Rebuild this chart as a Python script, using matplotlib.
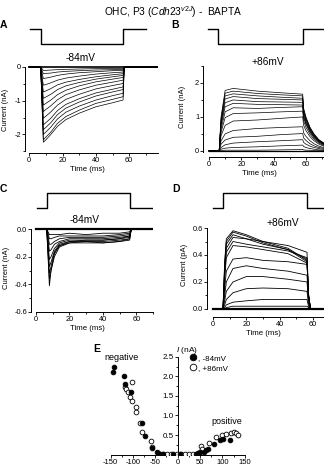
import matplotlib
matplotlib.use("Agg")
from matplotlib import pyplot as plt
from matplotlib.ticker import FixedLocator, MultipleLocator

plt.rcParams["font.family"] = ["Liberation Sans", "DejaVu Sans"]
plt.rcParams["mathtext.fontset"] = "custom"
plt.rcParams["mathtext.rm"] = "Liberation Sans"
plt.rcParams["mathtext.it"] = "Liberation Sans:italic"
plt.rcParams["axes.unicode_minus"] = False

# ---------------- datos ----------------
# A: corrientes a -84mV (nA), muestras en 8.5..56.3 ms
tiempo_a = [0, 6.9, 8.5, 10, 13, 17, 22, 30, 40, 50, 56.3, 57, 77]
trazas_a = [
    [-2.23, -2.16, -2.0, -1.76, -1.56, -1.37, -1.18, -1.06, -0.98],
    [-2.16, -2.08, -1.93, -1.67, -1.47, -1.28, -1.08, -0.96, -0.88],
    [-2.0, -1.93, -1.78, -1.54, -1.34, -1.16, -0.98, -0.85, -0.78],
    [-1.86, -1.79, -1.65, -1.41, -1.22, -1.04, -0.86, -0.74, -0.67],
    [-1.72, -1.65, -1.52, -1.29, -1.11, -0.94, -0.77, -0.66, -0.59],
    [-1.52, -1.46, -1.33, -1.13, -0.96, -0.81, -0.65, -0.55, -0.49],
    [-1.32, -1.26, -1.15, -0.97, -0.82, -0.68, -0.54, -0.45, -0.39],
    [-1.13, -1.08, -0.98, -0.82, -0.69, -0.56, -0.44, -0.36, -0.31],
    [-0.93, -0.89, -0.81, -0.67, -0.56, -0.46, -0.36, -0.29, -0.25],
    [-0.74, -0.71, -0.64, -0.53, -0.45, -0.37, -0.29, -0.23, -0.2],
    [-0.54, -0.52, -0.47, -0.39, -0.33, -0.27, -0.21, -0.17, -0.15],
    [-0.34, -0.33, -0.30, -0.25, -0.21, -0.17, -0.14, -0.11, -0.1],
    [-0.2, -0.19, -0.18, -0.15, -0.13, -0.11, -0.09, -0.08, -0.07],
    [-0.1, -0.1, -0.09, -0.08, -0.07, -0.06, -0.05, -0.04, -0.04],
]
pulso_a_t = [0.5, 7, 7, 56.3, 56.3, 70]
pulso_a_v = [0, 0, -1, -1, 0, 0]

# B: corrientes a +86mV (nA)
tiempo_b = [0, 6.3, 7.5, 10, 15, 30, 45, 58, 58.6, 60, 62.5, 65, 68, 71.5]
meseta_b = [
    [1.0, 1.78, 1.84, 1.76, 1.71, 1.67],
    [0.95, 1.70, 1.76, 1.69, 1.65, 1.62],
    [0.9, 1.62, 1.68, 1.62, 1.58, 1.55],
    [0.85, 1.53, 1.6, 1.54, 1.52, 1.5],
    [0.8, 1.42, 1.5, 1.45, 1.44, 1.43],
    [0.75, 1.3, 1.4, 1.37, 1.36, 1.35],
    [0.65, 1.15, 1.27, 1.25, 1.28, 1.3],
    [0.55, 0.98, 1.1, 1.12, 1.15, 1.17],
    [0.45, 0.75, 0.88, 0.91, 0.96, 1.0],
    [0.3, 0.5, 0.6, 0.66, 0.69, 0.71],
    [0.2, 0.32, 0.4, 0.43, 0.48, 0.51],
    [0.1, 0.18, 0.23, 0.27, 0.3, 0.33],
    [0.05, 0.08, 0.1, 0.12, 0.15, 0.17],
    [0.01, 0.02, 0.02, 0.02, 0.03, 0.04],
]
cola_b = [
    [1.25, 1.0, 0.70, 0.5, 0.33, 0.22],
    [1.22, 0.97, 0.68, 0.49, 0.32, 0.21],
    [1.16, 0.93, 0.65, 0.47, 0.31, 0.2],
    [1.13, 0.9, 0.63, 0.45, 0.3, 0.2],
    [1.07, 0.86, 0.6, 0.43, 0.29, 0.19],
    [1.01, 0.81, 0.57, 0.41, 0.27, 0.18],
    [0.98, 0.78, 0.55, 0.39, 0.26, 0.17],
    [0.88, 0.7, 0.49, 0.35, 0.23, 0.15],
    [0.75, 0.6, 0.42, 0.3, 0.2, 0.13],
    [0.53, 0.43, 0.3, 0.21, 0.14, 0.09],
    [0.38, 0.31, 0.21, 0.15, 0.1, 0.07],
    [0.25, 0.2, 0.14, 0.1, 0.07, 0.04],
    [0.13, 0.1, 0.07, 0.05, 0.03, 0.02],
    [0.03, 0.02, 0.02, 0.01, 0.01, 0.01],
]
pulso_b_t = [-0.6, 5.6, 5.6, 58.1, 58.1, 71.2]
pulso_b_v = [0, 0, -1, -1, 0, 0]

# C: -84mV con BAPTA (nA), muestras en 7.2..56 ms
tiempo_c = [0, 6.4, 7.2, 8, 9, 11, 14, 20, 30, 40, 50, 56, 57, 70]
trazas_c = [
    [-0.2, -0.41, -0.3, -0.18, -0.12, -0.1, -0.1, -0.1, -0.09, -0.08],
    [-0.18, -0.36, -0.3, -0.2, -0.13, -0.1, -0.09, -0.1, -0.09, -0.07],
    [-0.15, -0.32, -0.27, -0.17, -0.12, -0.09, -0.09, -0.09, -0.08, -0.07],
    [-0.12, -0.27, -0.24, -0.16, -0.11, -0.09, -0.08, -0.08, -0.07, -0.06],
    [-0.1, -0.22, -0.2, -0.14, -0.1, -0.08, -0.08, -0.08, -0.07, -0.05],
    [-0.07, -0.16, -0.15, -0.11, -0.09, -0.07, -0.07, -0.07, -0.06, -0.05],
    [-0.05, -0.11, -0.11, -0.09, -0.07, -0.06, -0.06, -0.06, -0.05, -0.04],
    [-0.03, -0.07, -0.07, -0.06, -0.05, -0.05, -0.05, -0.05, -0.04, -0.03],
    [-0.02, -0.04, -0.04, -0.04, -0.04, -0.03, -0.04, -0.03, -0.03, -0.02],
]
pulso_c_t = [0.6, 6.6, 6.6, 56.1, 56.1, 70]
pulso_c_v = [0, 0, 1, 1, 0, 0]

# D: +86mV con BAPTA (pA), muestras en 7..57.3 ms
tiempo_d = [0, 6, 7, 8, 12, 20, 30, 45, 56.4, 57.3, 58.5, 67]
trazas_d = [
    [0.35, 0.52, 0.58, 0.55, 0.5, 0.45, 0.36, 0.1],
    [0.33, 0.5, 0.57, 0.54, 0.49, 0.44, 0.35, 0.1],
    [0.3, 0.48, 0.55, 0.52, 0.48, 0.44, 0.37, 0.1],
    [0.28, 0.45, 0.53, 0.52, 0.5, 0.47, 0.42, 0.12],
    [0.25, 0.42, 0.5, 0.48, 0.46, 0.43, 0.38, 0.1],
    [0.22, 0.38, 0.47, 0.46, 0.44, 0.41, 0.34, 0.1],
    [0.15, 0.28, 0.37, 0.38, 0.36, 0.35, 0.33, 0.09],
    [0.1, 0.2, 0.3, 0.32, 0.3, 0.28, 0.25, 0.07],
    [0.06, 0.13, 0.2, 0.24, 0.24, 0.22, 0.2, 0.06],
    [0.03, 0.07, 0.12, 0.15, 0.155, 0.15, 0.13, 0.04],
    [0.01, 0.03, 0.05, 0.06, 0.07, 0.07, 0.07, 0.02],
    [0.0, 0.01, 0.02, 0.02, 0.02, 0.02, 0.02, 0.01],
]
pulso_d_t = [0, 6, 6, 56.4, 56.4, 66.6]
pulso_d_v = [0, 0, 1, 1, 0, 0]

# E: amplitud vs desplazamiento
x_84 = [-142, -144, -121, -117, -105, -80, -72, -57, -47, -40, -33, -10, 5,
        40, 45, 51, 58, 63, 67, 82, 94, 101, 117]
y_84 = [2.23, 2.11, 2.0, 1.81, 1.61, 0.8, 0.48, 0.17, 0.07, 0.02, 0.01, 0.01,
        0.01, 0.02, 0.03, 0.06, 0.07, 0.12, 0.13, 0.27, 0.36, 0.4, 0.37]
x_86 = [-102, -117, -115, -110, -106, -102, -93, -92, -84, -80, -59, -57, -44,
        -32, -23, -14, -2, 8, 17, 26, 35, 45, 52, 54, 71, 86, 98, 109, 119,
        126, 131, 135]
y_86 = [1.85, 1.74, 1.67, 1.59, 1.47, 1.37, 1.23, 1.08, 0.8, 0.57, 0.35, 0.2,
        0.04, 0.01, 0.01, 0.01, 0.01, 0.01, 0.01, 0.01, 0.02, 0.05, 0.22, 0.13,
        0.29, 0.44, 0.5, 0.53, 0.55, 0.57, 0.55, 0.5]
ticks_e = [-150, -100, -50, 0, 50, 100, 150]


fig = plt.figure(figsize=(3.24, 4.67), dpi=100)


def caja(x0, y0, x1, y1):
    # coordenadas en pixeles de la imagen -> fraccion de figura
    return [x0 / 324, 1 - y1 / 467, (x1 - x0) / 324, (y1 - y0) / 467]


def texto(x, y, s, **kw):
    fig.text(x / 324, 1 - y / 467, s, **kw)


def estilo_ticks(ax):
    ax.tick_params(which="both", direction="out", width=0.6, labelsize=5.3, pad=0.6)
    ax.tick_params(which="major", length=2.2)
    ax.tick_params(which="minor", length=1.2)


def preparar_ejes(ax, xlim, ylim, xbounds, ybounds, yticks, ylabels, ymenor):
    ax.set_xlim(xlim)
    ax.set_ylim(ylim)
    ax.spines["top"].set_visible(False)
    ax.spines["right"].set_visible(False)
    for s in ["left", "bottom"]:
        ax.spines[s].set_linewidth(0.7)
    ax.spines["bottom"].set_bounds(*xbounds)
    ax.spines["left"].set_bounds(*ybounds)
    ax.set_xticks([0, 20, 40, 60])
    ax.set_xticklabels(["0", "20", "40", "60"])
    ax.xaxis.set_minor_locator(FixedLocator([10, 30, 50, 70]))
    ax.set_yticks(yticks)
    ax.set_yticklabels(ylabels)
    ax.yaxis.set_minor_locator(FixedLocator(ymenor))
    estilo_ticks(ax)
    ax.patch.set_alpha(0)


def dibujar_pulso(caja_px, xlim, ylim, t, v):
    ax = fig.add_axes(caja(*caja_px))
    ax.plot(t, v, color="black", lw=1.0)
    ax.set_xlim(xlim)
    ax.set_ylim(ylim)
    ax.axis("off")


# ---------------- A ----------------
ax_a = fig.add_axes(caja(25, 65.3, 157.6, 153))
for v in trazas_a:
    ax_a.plot(tiempo_a, [0, 0] + v + [0, 0], color="black", lw=0.5)
ax_a.plot(tiempo_a, [0] * len(tiempo_a), color="black", lw=1.2)
preparar_ejes(ax_a, (-2.5, 77), (-2.55, 0.05), (0, 77), (-2.5, 0),
              [0, -1, -2], ["0", "-1", "-2"], [-0.5, -1.5, -2.5])
dibujar_pulso((25, 25, 157.6, 48), (-2.5, 77), (-1.267, 0.267), pulso_a_t, pulso_a_v)

# ---------------- B ----------------
ax_b = fig.add_axes(caja(203, 66, 324, 157))
for m, c in zip(meseta_b, cola_b):
    ax_b.plot(tiempo_b, [0, 0] + m + c, color="black", lw=0.5)
ax_b.plot(tiempo_b, [0] * len(tiempo_b), color="black", lw=0.9)
preparar_ejes(ax_b, (-3.7, 71.2), (-0.18, 2.5), (0, 71.2), (-0.02, 2.5),
              [0, 1, 2], ["0", "1", "2"], [0.5, 1.5, 2.5])
dibujar_pulso((203, 25, 324, 48), (-3.7, 71.2), (-1.267, 0.267), pulso_b_t, pulso_b_v)

# ---------------- C ----------------
ax_c = fig.add_axes(caja(31, 227, 153, 312))
for v in trazas_c:
    ax_c.plot(tiempo_c, [0, 0] + v + [0, 0], color="black", lw=0.6)
ax_c.plot(tiempo_c, [0] * len(tiempo_c), color="black", lw=1.6)
preparar_ejes(ax_c, (-3, 70), (-0.6, 0.015), (0, 70), (-0.6, 0),
              [0, -0.2, -0.4, -0.6], ["0.0", "-0.2", "-0.4", "-0.6"],
              [-0.1, -0.3, -0.5])
dibujar_pulso((31, 189, 153, 212), (-3, 70), (-0.237, 1.237), pulso_c_t, pulso_c_v)

# ---------------- D ----------------
ax_d = fig.add_axes(caja(207, 226, 324, 317))
for v in trazas_d:
    ax_d.plot(tiempo_d, [0, 0] + v + [0, 0], color="black", lw=0.6)
ax_d.plot(tiempo_d, [0] * len(tiempo_d), color="black", lw=1.6)
preparar_ejes(ax_d, (-3.6, 66.6), (-0.06, 0.615), (0, 66.6), (0, 0.6),
              [0, 0.2, 0.4, 0.6], ["0.0", "0.2", "0.4", "0.6"],
              [0.1, 0.3, 0.5])
dibujar_pulso((207, 189, 324, 212), (-3.6, 66.6), (-0.237, 1.237), pulso_d_t, pulso_d_v)

# ---------------- E ----------------
ax_e = fig.add_axes(caja(108.3, 355, 245.7, 455.3))
ax_e.plot(x_86, y_86, "o", ms=3.4, mfc="white", mec="black", mew=0.6,
          label=", +86mV", zorder=3)
ax_e.plot(x_84, y_84, "o", ms=3.4, mfc="black", mec="black", mew=0.6,
          label=", -84mV", zorder=4)
ax_e.set_xlim(-155, 152)
ax_e.set_ylim(-0.02, 2.55)
ax_e.spines["top"].set_visible(False)
ax_e.spines["right"].set_visible(False)
ax_e.spines["left"].set_position(("data", 0))
ax_e.spines["left"].set_bounds(0, 2.5)
ax_e.spines["bottom"].set_bounds(-150, 150)
for s in ["left", "bottom"]:
    ax_e.spines[s].set_linewidth(0.7)
ax_e.set_xticks(ticks_e)
ax_e.set_xticklabels([str(t) for t in ticks_e])
ax_e.xaxis.set_minor_locator(MultipleLocator(25))
ax_e.set_yticks([0.5, 1.0, 1.5, 2.0, 2.5])
ax_e.set_yticklabels(["0.5", "1.0", "1.5", "2.0", "2.5"])
ax_e.yaxis.set_minor_locator(MultipleLocator(0.25))
estilo_ticks(ax_e)
ax_e.tick_params(axis="x", pad=0.6, labelsize=5.5)
ax_e.tick_params(axis="y", labelsize=5.8)
ax_e.patch.set_alpha(0)
h, l = ax_e.get_legend_handles_labels()
ax_e.legend(h[::-1], l[::-1], loc="upper left", bbox_to_anchor=(0.6, 1.01),
            frameon=False, fontsize=5.8, markerscale=1.4, handlelength=0.6,
            handletextpad=0.35, labelspacing=0.35, borderpad=0, borderaxespad=0)

# ---------------- textos ----------------
texto(173, 12, r"OHC, P3 ($\mathit{Cdh23}^{\mathit{v2J}}$) -  BAPTA",
      ha="center", va="center", fontsize=7.3)
for letra, x, y in [("A", 0, 25), ("B", 171, 25), ("C", 0, 189),
                    ("D", 172, 189), ("E", 93, 349)]:
    texto(x, y, letra, ha="left", va="center", fontsize=7.5, fontweight="bold")
texto(81, 58, "-84mV", ha="center", va="center", fontsize=7.3)
texto(268, 62, "+86mV", ha="center", va="center", fontsize=7.3)
texto(85, 220, "-84mV", ha="center", va="center", fontsize=7.3)
texto(283, 223, "+86mV", ha="center", va="center", fontsize=7.3)
texto(6, 110, "Current (nA)", ha="center", va="center", rotation=90, fontsize=5.5)
texto(183, 107, "Current (nA)", ha="center", va="center", rotation=90, fontsize=5.5)
texto(7, 268, "Current (nA)", ha="center", va="center", rotation=90, fontsize=5.5)
texto(184, 265, "Current (pA)", ha="center", va="center", rotation=90, fontsize=5.5)
texto(87, 169.5, "Time (ms)", ha="center", va="center", fontsize=5.6)
texto(259, 173.5, "Time (ms)", ha="center", va="center", fontsize=5.6)
texto(87, 328.5, "Time (ms)", ha="center", va="center", fontsize=5.6)
texto(263, 333.5, "Time (ms)", ha="center", va="center", fontsize=5.6)
texto(122, 358, "negative", ha="center", va="center", fontsize=6.5)
texto(227, 422, "positive", ha="center", va="center", fontsize=6.5)
texto(187, 350, r"$\mathit{I}$ (nA)", ha="center", va="center", fontsize=6)

fig.savefig("out.png", dpi=100)
